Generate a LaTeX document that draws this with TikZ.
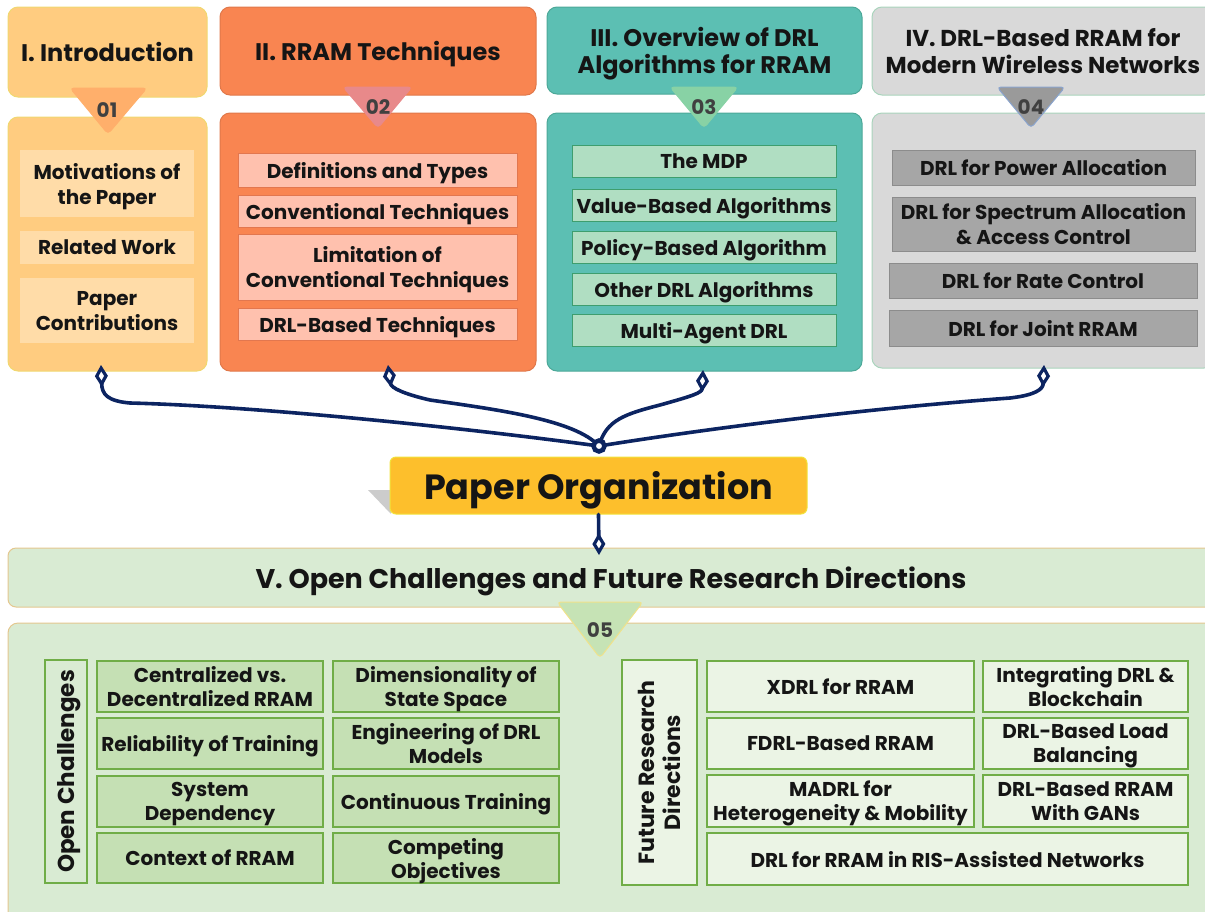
\documentclass[tikz,border=0pt]{standalone}
\usepackage{fontspec}
\setmainfont{Poppins}
\usetikzlibrary{arrows.meta,shapes.geometric}
\definecolor{txt}{HTML}{151515}
\definecolor{numc}{HTML}{404040}
\definecolor{cA}{HTML}{FFCC80}\definecolor{cAb}{HTML}{F0D870}\definecolor{cAi}{HTML}{FFDCA8}
\definecolor{cB}{HTML}{F98551}\definecolor{cBb}{HTML}{E0784A}\definecolor{cBi}{HTML}{FFC1AE}\definecolor{cBib}{HTML}{E2774F}
\definecolor{cC}{HTML}{5CBFB3}\definecolor{cCb}{HTML}{4CA898}\definecolor{cCi}{HTML}{B0DEC2}\definecolor{cCib}{HTML}{3E9E6E}
\definecolor{cD}{HTML}{D9D9D9}\definecolor{cDb}{HTML}{A9D4BC}\definecolor{cDi}{HTML}{A6A6A6}\definecolor{cDib}{HTML}{8C8C8C}
\definecolor{bA}{HTML}{FFAF6B}\definecolor{bB}{HTML}{E8898A}\definecolor{bC}{HTML}{88D2A5}\definecolor{bD}{HTML}{9A9A9A}\definecolor{bDb}{HTML}{8AA4CE}
\definecolor{poc}{HTML}{FDBF2C}\definecolor{pob}{HTML}{F2E23A}
\definecolor{vE}{HTML}{D9EBD3}\definecolor{vEb}{HTML}{E4C78F}
\definecolor{vI}{HTML}{C5E0B4}\definecolor{vIb}{HTML}{70AD47}\definecolor{fI}{HTML}{EBF4E5}
\definecolor{bE}{HTML}{C6E3B5}\definecolor{bEb}{HTML}{F0E28A}
\definecolor{navy}{HTML}{0C2461}
\newcommand\mybox[7]{\node[#6, minimum width={#4-#2}, minimum height={#5-#3}] (#1) at ({(#2+#4)/2},{(#3+#5)/2}) {#7};}
\tikzset{
  base/.style={inner sep=0pt, align=center, text=txt, text depth=0pt},
  hdr/.style={base, rounded corners=10pt, line width=1pt, font=\fontsize{24}{27}\selectfont\bfseries},
  body/.style={base, rounded corners=10pt, line width=1pt},
  item/.style={base, line width=1pt, font=\fontsize{20}{25}\selectfont\bfseries},
  gitem/.style={base, line width=1.2pt, font=\fontsize{20}{24}\selectfont\bfseries},
  badge/.style={rounded corners=4pt, line width=1pt},
  num/.style={inner sep=0pt, text depth=0pt, text=numc, font=\fontsize{20}{22}\selectfont\bfseries},
  conn/.style={draw=navy, line width=3.6pt, line cap=round},
  dtip/.style={-{Diamond[open, length=22pt, width=13pt, line width=3.2pt]}},
}
\begin{document}
\begin{tikzpicture}[x=1pt,y=-1pt]
\useasboundingbox (0,0) rectangle (1205,911);
% ---------- column 1
\mybox{h1}{8}{7}{207}{97}{hdr, fill=cA, draw=cAb}{I. Introduction}
\mybox{g1}{8}{117}{207}{371}{body, fill=cA, draw=cAb}{}
\mybox{a11}{20}{150}{194}{217}{item, fill=cAi}{Motivations of\\the Paper}
\mybox{a12}{20}{231}{194}{264}{item, fill=cAi}{Related Work}
\mybox{a13}{20}{278}{194}{343}{item, fill=cAi}{Paper\\Contributions}
% ---------- column 2
\mybox{h2}{220}{7}{536}{95}{hdr, fill=cB, draw=cBb}{II. RRAM Techniques}
\mybox{g2}{220}{113}{536}{371}{body, fill=cB, draw=cBb}{}
\mybox{a21}{238}{153}{517}{187}{item, fill=cBi, draw=cBib}{Definitions and Types}
\mybox{a22}{238}{195}{517}{227}{item, fill=cBi, draw=cBib}{Conventional Techniques}
\mybox{a23}{238}{234}{517}{300}{item, fill=cBi, draw=cBib}{Limitation of\\Conventional Techniques}
\mybox{a24}{238}{308}{517}{340}{item, fill=cBi, draw=cBib}{DRL-Based Techniques}
% ---------- column 3
\mybox{h3}{547}{7}{862}{94}{hdr, fill=cC, draw=cCb}{III. Overview of DRL\\Algorithms for RRAM}
\mybox{g3}{547}{113}{862}{371}{body, fill=cC, draw=cCb}{}
\mybox{a31}{572}{145}{836}{177}{item, fill=cCi, draw=cCib}{The MDP}
\mybox{a32}{572}{189}{836}{221}{item, fill=cCi, draw=cCib}{Value-Based Algorithms}
\mybox{a33}{572}{231}{836}{263}{item, fill=cCi, draw=cCib}{Policy-Based Algorithm}
\mybox{a34}{572}{273}{836}{305}{item, fill=cCi, draw=cCib}{Other DRL Algorithms}
\mybox{a35}{572}{314}{836}{346}{item, fill=cCi, draw=cCib}{Multi-Agent DRL}
% ---------- column 4
\mybox{h4}{872}{7}{1214}{95}{hdr, fill=cD, draw=cDb, font=\fontsize{23}{27}\selectfont\bfseries}{IV. DRL-Based RRAM for\\Modern Wireless Networks}
\mybox{g4}{872}{113}{1214}{368}{body, fill=cD, draw=cDb}{}
\mybox{a41}{892}{150}{1195}{185}{item, fill=cDi, draw=cDib}{DRL for Power Allocation}
\mybox{a42}{892}{197}{1195}{251}{item, fill=cDi, draw=cDib}{DRL for Spectrum Allocation\\\& Access Control}
\mybox{a43}{889}{263}{1197}{298}{item, fill=cDi, draw=cDib}{DRL for Rate Control}
\mybox{a44}{889}{310}{1197}{346}{item, fill=cDi, draw=cDib}{DRL for Joint RRAM}
% ---------- badges
\path[badge, fill=bA, draw=bA] (70,88) -- (147,88) -- (108,134) -- cycle;
\node[num] (n1) at (107,110) {01};
\path[badge, fill=bB, draw=bB] (343,87) -- (412,87) -- (378,128) -- cycle;
\node[num] (n2) at (378,107) {02};
\path[badge, fill=bC, draw=bC] (670,87) -- (738,87) -- (704,128) -- cycle;
\node[num] (n3) at (704,107) {03};
\path[badge, fill=bD, draw=bDb] (997,87) -- (1065,87) -- (1031,128) -- cycle;
\node[num] (n4) at (1031,107) {04};
% ---------- paper organization
\fill[black!20] (368,490) -- (391,490) -- (391,514) -- cycle;
\mybox{po}{390}{457}{807}{514}{base, fill=poc, draw=pob, line width=1pt, rounded corners=6pt, font=\fontsize{35}{40}\selectfont\bfseries}{Paper Organization}
% ---------- connectors
\coordinate (hub) at (599,446);
\coordinate (d1) at (101,365);
\coordinate (d2) at (388,365);
\coordinate (d3) at (703,370);
\coordinate (d4) at (1044,365);
\coordinate (d5) at (599,555);
\draw[conn, dtip] (hub) .. controls (450,426) and (250,406) .. (130,403) .. controls (107,401) and (102,394) .. (d1);
\draw[conn, dtip] (hub) .. controls (575,420) and (500,410) .. (430,400) .. controls (404,394) and (391,388) .. (d2);
\draw[conn, dtip] (hub) .. controls (606,420) and (625,414) .. (660,405) .. controls (692,396) and (702,393) .. (d3);
\draw[conn, dtip] (hub) .. controls (750,422) and (900,406) .. (1010,398) .. controls (1036,395) and (1043,389) .. (d4);
\filldraw[fill=white, draw=navy, line width=4.5pt] (hub) circle (5.5);
% ---------- section V
\mybox{v}{8}{548}{1214}{607}{base, fill=vE, draw=vEb, line width=1pt, rounded corners=8pt, font=\fontsize{27}{30}\selectfont\bfseries}{V. Open Challenges and Future Research Directions}
\draw[conn, dtip] (po.south) -- (d5);
\mybox{g5}{8}{623}{1214}{924}{body, fill=vE, draw=vEb}{}
\path[badge, fill=bE, draw=bEb] (557,602) -- (643,602) -- (600,658) -- cycle;
\node[num] (n5) at (600,630) {05};
% open challenges
\node[base, rotate=90, fill=vE, draw=vIb, line width=1.2pt, minimum width=223, minimum height=42, font=\fontsize{23}{26}\selectfont\bfseries] (oc) at (66,771.5) {Open Challenges};
\mybox{o11}{97}{661}{323}{712}{gitem, fill=vI, draw=vIb}{Centralized vs.\\Decentralized RRAM}
\mybox{o12}{333}{661}{559}{712}{gitem, fill=vI, draw=vIb}{Dimensionality of\\State Space}
\mybox{o21}{97}{718}{323}{769}{gitem, fill=vI, draw=vIb}{Reliability of Training}
\mybox{o22}{333}{718}{559}{769}{gitem, fill=vI, draw=vIb}{Engineering of DRL\\Models}
\mybox{o31}{97}{776}{323}{827}{gitem, fill=vI, draw=vIb}{System\\Dependency}
\mybox{o32}{333}{776}{559}{827}{gitem, fill=vI, draw=vIb}{Continuous Training}
\mybox{o41}{97}{833}{323}{883}{gitem, fill=vI, draw=vIb}{Context of RRAM}
\mybox{o42}{333}{833}{559}{883}{gitem, fill=vI, draw=vIb}{Competing\\Objectives}
% future research directions
\node[base, rotate=90, fill=fI, draw=vIb, line width=1.2pt, minimum width=225, minimum height=75, font=\fontsize{22}{26}\selectfont\bfseries] (fr) at (659.5,772.5) {Future Research\\Directions};
\mybox{f11}{707}{661}{974}{712}{gitem, fill=fI, draw=vIb}{XDRL for RRAM}
\mybox{f12}{983}{661}{1188}{712}{gitem, fill=fI, draw=vIb}{Integrating DRL \&\\Blockchain}
\mybox{f21}{707}{718}{974}{769}{gitem, fill=fI, draw=vIb}{FDRL-Based RRAM}
\mybox{f22}{983}{718}{1188}{769}{gitem, fill=fI, draw=vIb}{DRL-Based Load\\Balancing}
\mybox{f31}{707}{775}{974}{827}{gitem, fill=fI, draw=vIb}{MADRL for\\Heterogeneity \& Mobility}
\mybox{f32}{983}{775}{1188}{827}{gitem, fill=fI, draw=vIb}{DRL-Based RRAM\\With GANs}
\mybox{f41}{707}{833}{1188}{885}{gitem, fill=fI, draw=vIb}{DRL for RRAM in RIS-Assisted Networks}
\end{tikzpicture}
\end{document}
